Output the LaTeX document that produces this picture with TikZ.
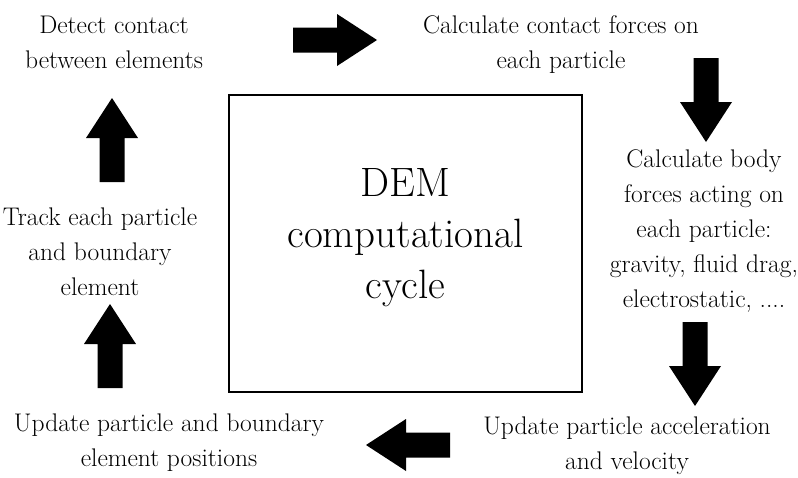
\documentclass[tikz,border=0pt]{standalone}
\usepackage{tikz}

\tikzset{
  lbl/.style={align=center, inner sep=0pt,
     font=\fontsize{25.5}{35}\selectfont},
  bigarrow/.style={black}
}
% block arrow: tail at (#1,#2), pointing at angle #3
\newcommand{\blockarrow}[3]{
   \fill [bigarrow,shift={(#1,#2)},rotate=#3]
      (0,-12.5) -- (44,-12.5) -- (44,-26) -- (84,0)
      -- (44,26) -- (44,12.5) -- (0,12.5) -- cycle;
}

\begin{document}
\begin{tikzpicture}[x=1pt,y=-1pt]
            \useasboundingbox (0,0) rectangle (798,477);

            \node [draw,line width=1.8pt,minimum width=353pt,minimum height=297pt] 
               (dem) at (405.5,243.5) {};
            \node [align=center,font=\fontsize{41}{51}\selectfont] 
               (demtext) at (405.5,238) {DEM\\computational\\cycle};

            \node [lbl] (detect) at (114,42) {Detect contact\\between elements};
            \node [lbl] (contact) at (561,45) {Calculate contact forces on\\each particle};
            \node [lbl] (body) at (704,231.5) 
               {Calculate body\\forces acting on\\each particle:\\gravity, fluid drag,\\electrostatic, ....};
            \node [lbl] (accel) at (627,446) {Update particle acceleration\\and velocity};
            \node [lbl] (update) at (169,443) {Update particle and boundary\\element positions};
            \node [lbl] (track) at (100,251.5) {Track each particle\\and boundary\\element};

            %\draw (detect) -- (contact);
            \blockarrow{293}{40}{0}
            \blockarrow{706}{58}{-90}
            \blockarrow{695}{322}{-90}
            \blockarrow{450}{445}{180}
            \blockarrow{110}{388}{90}
            \blockarrow{112}{182}{90}
         \end{tikzpicture}
\end{document}
